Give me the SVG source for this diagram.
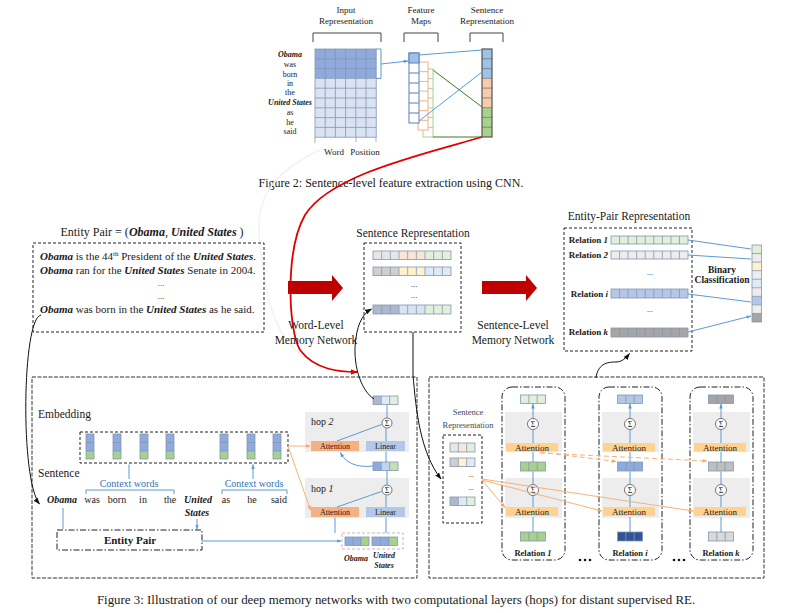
<svg xmlns="http://www.w3.org/2000/svg" width="793" height="613" viewBox="0 0 793 613">
<style>
text{font-family:"Liberation Serif","Times New Roman",serif;fill:#1a1a1a}
.bi{font-weight:bold;font-style:italic}
.b{font-weight:bold}
.i{font-style:italic}
.m{text-anchor:middle}
.c{stroke:#8497b0;stroke-width:0.8}
.g{fill:none;stroke:#8497b0;stroke-width:0.8}
.blue{fill:none;stroke:#5b9bd5;stroke-width:1}
.org{fill:none;stroke:#f5b27a;stroke-width:1}
.blk{fill:none;stroke:#111;stroke-width:1}
.dash{fill:none;stroke:#222;stroke-width:1;stroke-dasharray:3 2}
.dashd{fill:none;stroke:#222;stroke-width:1;stroke-dasharray:6 2 1.5 2}
.band{fill:#ededed}
.att{fill:#ffd28f}
.sig{fill:#fff;stroke:#555;stroke-width:0.8}
</style>
<defs>
<marker id="mb" viewBox="0 0 10 10" refX="9" refY="5" markerWidth="5" markerHeight="5" orient="auto"><path d="M0,1.5 L10,5 L0,8.5z" fill="#5b9bd5"/></marker>
<marker id="mk" viewBox="0 0 10 10" refX="9" refY="5" markerWidth="7" markerHeight="7" orient="auto"><path d="M0,1.5 L10,5 L0,8.5z" fill="#111"/></marker>
<marker id="mo" viewBox="0 0 10 10" refX="9" refY="5" markerWidth="5" markerHeight="5" orient="auto"><path d="M0,1.5 L10,5 L0,8.5z" fill="#f5a35f"/></marker>
<marker id="mr" viewBox="0 0 10 10" refX="9" refY="5" markerWidth="4" markerHeight="4" orient="auto"><path d="M0,1 L10,5 L0,9z" fill="#e00000"/></marker>
</defs>
<rect width="793" height="613" fill="#fff"/>

<!-- ===== Figure 2: CNN ===== -->
<g id="cnn">
<text class="m" x="346" y="13" font-size="9">Input</text>
<text class="m" x="346" y="24" font-size="9">Representation</text>
<text class="m" x="421" y="13" font-size="9">Feature</text>
<text class="m" x="421" y="24" font-size="9">Maps</text>
<text class="m" x="487" y="13" font-size="9">Sentence</text>
<text class="m" x="487" y="24" font-size="9">Representation</text>
<path d="M313 42 V33 H381 V42 M404 42 V33 H438 V42 M470 42 V33 H503 V42" fill="none" stroke="#444" stroke-width="1"/>
<g font-size="8">
<text class="m bi" x="290" y="57">Obama</text>
<text class="m" x="290" y="67">was</text>
<text class="m" x="290" y="77">born</text>
<text class="m" x="290" y="86">in</text>
<text class="m" x="290" y="95">the</text>
<text class="m bi" x="290" y="105">United States</text>
<text class="m" x="290" y="115">as</text>
<text class="m" x="290" y="125">he</text>
<text class="m" x="290" y="134">said</text>
</g>
<rect x="315" y="49" width="61.2" height="29.4" fill="#8faadc"/>
<rect x="315" y="78.4" width="61.2" height="58.8" fill="#dae3f3"/>
<path class="g" d="M325.2 49V137.2M335.4 49V137.2M345.6 49V137.2M355.8 49V137.2M366 49V137.2M315 58.8H376.2M315 68.6H376.2M315 78.4H376.2M315 88.2H376.2M315 98H376.2M315 107.8H376.2M315 117.6H376.2M315 127.4H376.2"/>
<rect class="g" x="315" y="49" width="61.2" height="88.2"/>
<path d="M315 137V143 M356 137V142 M376 137V142" stroke="#999" stroke-width="0.8"/>
<text class="m" x="334" y="155" font-size="9">Word</text>
<text class="m" x="365" y="155" font-size="9">Position</text>
<path d="M376.2 49 H381 V78.4 H376.2" fill="none" stroke="#5b9bd5" stroke-width="1"/>
<path class="blue" d="M381 64 L408 61" marker-end="url(#mb)"/>
<rect x="423" y="69" width="10" height="68" fill="#fff" stroke="#a9d18e" stroke-width="1"/>
<path d="M423 78.7H433M423 88.4H433M423 98.1H433M423 107.9H433M423 117.6H433M423 127.3H433" stroke="#a9d18e" stroke-width="1"/>
<rect x="418" y="62" width="10" height="68" fill="#fff" stroke="#f4b183" stroke-width="1"/>
<path d="M418 71.7H428M418 81.4H428M418 91.1H428M418 100.9H428M418 110.6H428M418 120.3H428" stroke="#f4b183" stroke-width="1"/>
<rect x="409" y="53" width="10" height="70" fill="#fff" stroke="#5b7fbf" stroke-width="1"/>
<rect x="409" y="53" width="10" height="10" fill="#9dc3e6" stroke="#5b7fbf" stroke-width="1"/>
<path d="M409 73H419M409 83H419M409 93H419M409 103H419M409 113H419" stroke="#5b7fbf" stroke-width="1"/>
<rect x="482" y="49" width="10" height="29.3" fill="#9dc3e6"/>
<rect x="482" y="78.3" width="10" height="29.4" fill="#f8cbad"/>
<rect x="482" y="107.7" width="10" height="29.3" fill="#a9d18e"/>
<path d="M482 58.8H492M482 68.6H492M482 78.3H492M482 88.1H492M482 97.9H492M482 107.7H492M482 117.4H492M482 127.2H492" stroke="#777" stroke-width="0.8"/>
<rect x="482" y="49" width="10" height="88" fill="none" stroke="#555" stroke-width="1.2"/>
<path class="blue" d="M419 55 L482 50 M419 121 L482 72"/>
<path d="M433 70 L482 107 M433 137 H482" fill="none" stroke="#3f7a22" stroke-width="1"/>
</g>
<text class="m" x="391" y="187" font-size="12">Figure 2: Sentence-level feature extraction using CNN.</text>

<!-- faint and red curves -->
<path d="M320 150 C255 180 255 215 262 260 C268 310 280 345 310 360" fill="none" stroke="#f2f2f2" stroke-width="1.5"/>
<path d="M482 137 C420 155 330 175 305 215 C285 250 288 330 300 350 C315 370 340 372 357 372" fill="none" stroke="#e00000" stroke-width="1.8" marker-end="url(#mr)"/>

<!-- ===== Entity pair sentences ===== -->
<g id="entity-sentences">
<text class="m" x="152" y="236" font-size="12">Entity  Pair = (<tspan class="bi">Obama</tspan>, <tspan class="bi">United States</tspan> )</text>
<rect class="dash" x="33" y="243" width="231" height="89"/>
<g font-size="11">
<text x="40" y="260"><tspan class="bi">Obama</tspan> is the 44<tspan font-size="7" dy="-4">th</tspan><tspan dy="4"> President of the </tspan><tspan class="bi">United States</tspan>.</text>
<text x="40" y="274"><tspan class="bi">Obama</tspan> ran for the <tspan class="bi">United States</tspan> Senate in 2004.</text>
<text class="m" x="161" y="286" font-size="9">...</text>
<text class="m" x="161" y="299" font-size="9">...</text>
<text x="40" y="313"><tspan class="bi">Obama</tspan> was born in the <tspan class="bi">United States</tspan> as he said.</text>
</g>
</g>

<!-- red block arrows -->
<polygon points="288,281 332,281 332,275 343,288 332,301 332,294 288,294" fill="#c00000"/>
<polygon points="482,281 526,281 526,275 537,288 526,301 526,294 482,294" fill="#c00000"/>
<text class="m" x="316" y="329" font-size="11.5">Word-Level</text>
<text class="m" x="316" y="344" font-size="11.5">Memory Network</text>
<text class="m" x="513" y="329" font-size="11.5">Sentence-Level</text>
<text class="m" x="513" y="344" font-size="11.5">Memory Network</text>

<!-- ===== Sentence Representation (middle) ===== -->
<g id="sentence-representation">
<text class="m" x="413" y="237" font-size="11.5">Sentence  Representation</text>
<rect class="dash" x="364" y="243" width="97" height="89"/>
<rect x="373" y="251" width="26" height="8.5" fill="#e7e6e6"/><rect x="399" y="251" width="26" height="8.5" fill="#fbe5d6"/><rect x="425" y="251" width="26" height="8.5" fill="#e2f0d9"/>
<rect x="373" y="267" width="26" height="8.5" fill="#d0cece"/><rect x="399" y="267" width="26" height="8.5" fill="#fff2cc"/><rect x="425" y="267" width="26" height="8.5" fill="#deebf7"/>
<rect x="373" y="305" width="26" height="9" fill="#adb9ca"/><rect x="399" y="305" width="26" height="9" fill="#dae3f3"/><rect x="425" y="305" width="26" height="9" fill="#e2f0d9"/>
<path class="g" d="M381.67 251v8.5M390.33 251v8.5M399 251v8.5M407.67 251v8.5M416.33 251v8.5M425 251v8.5M433.67 251v8.5M442.33 251v8.5M381.67 267v8.5M390.33 267v8.5M399 267v8.5M407.67 267v8.5M416.33 267v8.5M425 267v8.5M433.67 267v8.5M442.33 267v8.5M381.67 305v9M390.33 305v9M399 305v9M407.67 305v9M416.33 305v9M425 305v9M433.67 305v9M442.33 305v9"/>
<rect class="g" x="373" y="251" width="78" height="8.5"/><rect class="g" x="373" y="267" width="78" height="8.5"/><rect class="g" x="373" y="305" width="78" height="9"/>
<text class="m" x="414" y="287" font-size="9">...</text>
<text class="m" x="414" y="298" font-size="9">...</text>
</g>

<!-- ===== Entity-Pair Representation ===== -->
<g id="entity-pair-representation">
<text class="m" x="629" y="220" font-size="11.5">Entity-Pair  Representation</text>
<rect class="dash" x="564" y="228" width="128" height="123"/>
<g font-size="9" class="b">
<text x="608" y="243" text-anchor="end">Relation <tspan class="i">1</tspan></text>
<text x="608" y="258" text-anchor="end">Relation <tspan class="i">2</tspan></text>
<text x="608" y="297" text-anchor="end">Relation <tspan class="i">i</tspan></text>
<text x="608" y="335" text-anchor="end">Relation <tspan class="i">k</tspan></text>
</g>
<rect x="611" y="236" width="77" height="8" fill="#e2f0d9"/>
<rect x="611" y="251" width="77" height="8" fill="#ededed"/>
<rect x="611" y="289" width="77" height="9" fill="#b4c7e7"/>
<rect x="611" y="328" width="77" height="9" fill="#a5a5a5"/>
<path class="g" d="M619.56 236v8M628.11 236v8M636.67 236v8M645.22 236v8M653.78 236v8M662.33 236v8M670.89 236v8M679.44 236v8M619.56 251v8M628.11 251v8M636.67 251v8M645.22 251v8M653.78 251v8M662.33 251v8M670.89 251v8M679.44 251v8M619.56 289v9M628.11 289v9M636.67 289v9M645.22 289v9M653.78 289v9M662.33 289v9M670.89 289v9M679.44 289v9M619.56 328v9M628.11 328v9M636.67 328v9M645.22 328v9M653.78 328v9M662.33 328v9M670.89 328v9M679.44 328v9"/>
<rect class="g" x="611" y="236" width="77" height="8"/><rect class="g" x="611" y="251" width="77" height="8"/><rect class="g" x="611" y="289" width="77" height="9"/><rect class="g" x="611" y="328" width="77" height="9"/>
<text class="m" x="650" y="275" font-size="8" fill="#666">...</text>
<text class="m" x="650" y="312" font-size="8" fill="#666">...</text>
</g>
<g id="binary-classification">
<text class="m b" x="722" y="273" font-size="9.5">Binary</text>
<text class="m b" x="722" y="283" font-size="9.5">Classification</text>
<rect x="752" y="245" width="9.5" height="8.56" fill="#e2f0d9"/>
<rect x="752" y="253.56" width="9.5" height="8.56" fill="#ededed"/>
<rect x="752" y="262.11" width="9.5" height="8.56" fill="#fff2cc"/>
<rect x="752" y="270.67" width="9.5" height="8.56" fill="#ededed"/>
<rect x="752" y="279.22" width="9.5" height="8.56" fill="#deebf7"/>
<rect x="752" y="287.78" width="9.5" height="8.56" fill="#ededed"/>
<rect x="752" y="296.33" width="9.5" height="8.56" fill="#b4c7e7"/>
<rect x="752" y="304.89" width="9.5" height="8.56" fill="#ededed"/>
<rect x="752" y="313.44" width="9.5" height="8.56" fill="#a5a5a5"/>
<path class="g" d="M752 253.56h9.5M752 262.11h9.5M752 270.67h9.5M752 279.22h9.5M752 287.78h9.5M752 296.33h9.5M752 304.89h9.5M752 313.44h9.5"/>
<rect class="g" x="752" y="245" width="9.5" height="77"/>
</g>

<!-- ===== Bottom-left panel: word-level memory network ===== -->
<g id="word-level-panel">
<rect x="32" y="377" width="385" height="201" fill="none" stroke="#333" stroke-width="1" stroke-dasharray="4 1.5"/>
<text x="38" y="418" font-size="11.5">Embedding</text>
<text x="38" y="477" font-size="11.5">Sentence</text>
<rect class="dash" x="80" y="432" width="208" height="31"/>
<g>
<rect x="86" y="434" width="8" height="17" fill="#8faadc"/><rect x="86" y="451" width="8" height="8" fill="#a9d18e"/><path class="g" d="M86 442.5h8M86 451h8"/><rect class="g" x="86" y="434" width="8" height="25"/>
<rect x="113" y="434" width="8" height="17" fill="#8faadc"/><rect x="113" y="451" width="8" height="8" fill="#a9d18e"/><path class="g" d="M113 442.5h8M113 451h8"/><rect class="g" x="113" y="434" width="8" height="25"/>
<rect x="140" y="434" width="8" height="17" fill="#8faadc"/><rect x="140" y="451" width="8" height="8" fill="#a9d18e"/><path class="g" d="M140 442.5h8M140 451h8"/><rect class="g" x="140" y="434" width="8" height="25"/>
<rect x="166" y="434" width="8" height="17" fill="#8faadc"/><rect x="166" y="451" width="8" height="8" fill="#a9d18e"/><path class="g" d="M166 442.5h8M166 451h8"/><rect class="g" x="166" y="434" width="8" height="25"/>
<rect x="220" y="434" width="8" height="17" fill="#8faadc"/><rect x="220" y="451" width="8" height="8" fill="#a9d18e"/><path class="g" d="M220 442.5h8M220 451h8"/><rect class="g" x="220" y="434" width="8" height="25"/>
<rect x="247" y="434" width="8" height="17" fill="#8faadc"/><rect x="247" y="451" width="8" height="8" fill="#a9d18e"/><path class="g" d="M247 442.5h8M247 451h8"/><rect class="g" x="247" y="434" width="8" height="25"/>
<rect x="273" y="434" width="8" height="17" fill="#8faadc"/><rect x="273" y="451" width="8" height="8" fill="#a9d18e"/><path class="g" d="M273 442.5h8M273 451h8"/><rect class="g" x="273" y="434" width="8" height="25"/>
</g>
<text class="m" x="129" y="487" font-size="10" style="fill:#2e75b6">Context words</text>
<text class="m" x="254" y="487" font-size="10" style="fill:#2e75b6">Context words</text>
<path class="blue" d="M86 494V490H174V494M222 494V490H287V494"/>
<path class="blue" d="M129 479V464.5M253 479V464.5" marker-end="url(#mb)"/>
<g font-size="10">
<text class="m bi" x="62" y="503">Obama</text>
<text class="m" x="92" y="503">was</text>
<text class="m" x="117" y="503">born</text>
<text class="m" x="143" y="503">in</text>
<text class="m" x="170" y="503">the</text>
<text class="m bi" x="198" y="503">United</text>
<text class="m bi" x="197" y="516">States</text>
<text class="m" x="226" y="503">as</text>
<text class="m" x="252" y="503">he</text>
<text class="m" x="279" y="503">said</text>
</g>
<path class="blue" d="M63 508V529M197 519V529" marker-end="url(#mb)"/>
<rect class="dashd" x="57" y="530" width="145" height="20"/>
<text class="m b" x="130" y="544" font-size="11">Entity Pair</text>
<path class="blue" d="M202 541H341" marker-end="url(#mb)"/>
<!-- hops -->
<rect class="band" x="305" y="412" width="104" height="40"/>
<rect class="band" x="305" y="478" width="104" height="40"/>
<text x="311" y="425" font-size="10">hop <tspan class="i">2</tspan></text>
<text x="311" y="492" font-size="10">hop <tspan class="i">1</tspan></text>
<rect x="311" y="441" width="48" height="10" fill="#f4b183"/>
<rect x="366" y="441" width="39" height="10" fill="#b4c7e7"/>
<rect x="311" y="507" width="48" height="10" fill="#f4b183"/>
<rect x="366" y="507" width="39" height="10" fill="#b4c7e7"/>
<text class="m" x="335" y="449" font-size="8">Attention</text>
<text class="m" x="385.5" y="449" font-size="8">Linear</text>
<text class="m" x="335" y="515" font-size="8">Attention</text>
<text class="m" x="385.5" y="515" font-size="8">Linear</text>
<circle class="sig" cx="387" cy="423" r="5"/><text class="m" x="387" y="426" font-size="8">Σ</text>
<circle class="sig" cx="387" cy="490" r="5"/><text class="m" x="387" y="493" font-size="8">Σ</text>
<rect x="373" y="396" width="8.33" height="8.5" fill="#adb9ca"/><rect x="381.33" y="396" width="8.33" height="8.5" fill="#deebf7"/><rect x="389.67" y="396" width="8.33" height="8.5" fill="#e2f0d9"/>
<rect class="g" x="373" y="396" width="25" height="8.5"/><path class="g" d="M381.33 396v8.5M389.67 396v8.5"/>
<rect x="373" y="462" width="8.33" height="8.5" fill="#8faadc"/><rect x="381.33" y="462" width="8.33" height="8.5" fill="#bdd7ee"/><rect x="389.67" y="462" width="8.33" height="8.5" fill="#c5e0b4"/>
<rect class="g" x="373" y="462" width="25" height="8.5"/><path class="g" d="M381.33 462v8.5M389.67 462v8.5"/>
<path class="blue" d="M386 441V428.5M387 418V405M386 462V451.5M387 485V471M386 507V495.5M386 533V517.5M335 533V517.5M337 441L381.5 424.5M337 507L381.5 491.5M373 466C355 468 345 462 340.5 452.5" marker-end="url(#mb)"/>
<rect x="342" y="533" width="61" height="16" fill="none" stroke="#aaa" stroke-width="0.8" stroke-dasharray="3 2"/>
<rect x="345" y="537" width="16" height="8.5" fill="#8faadc"/><rect x="361" y="537" width="8" height="8.5" fill="#a9d18e"/>
<rect class="g" x="345" y="537" width="24" height="8.5"/><path class="g" d="M353 537v8.5M361 537v8.5"/>
<rect x="372" y="537" width="17" height="8.5" fill="#8faadc"/><rect x="389" y="537" width="8.5" height="8.5" fill="#a9d18e"/>
<rect class="g" x="372" y="537" width="25.5" height="8.5"/><path class="g" d="M380.5 537v8.5M389 537v8.5"/>
<text class="m bi" x="356" y="561" font-size="8">Obama</text>
<text class="m bi" x="384" y="558" font-size="8">United</text>
<text class="m bi" x="384" y="568" font-size="8">States</text>
<path class="org" d="M288 446H310" marker-end="url(#mo)"/>
<path class="org" d="M288 446L310.5 510" marker-end="url(#mo)"/>
</g>

<!-- ===== Bottom-right panel: sentence-level memory network ===== -->
<g id="sentence-level-panel">
<rect x="429" y="377" width="335" height="201" fill="none" stroke="#333" stroke-width="1" stroke-dasharray="4 1.5"/>
<text class="m" x="468" y="415" font-size="8.5" style="fill:#3b4a5e">Sentence</text>
<text class="m" x="468" y="428" font-size="8.5" style="fill:#3b4a5e">Representation</text>
<rect class="dash" x="443" y="435" width="39" height="88"/>
<rect x="450" y="443" width="8.33" height="9" fill="#e7e6e6"/><rect x="458.33" y="443" width="8.33" height="9" fill="#fbe5d6"/><rect x="466.67" y="443" width="8.33" height="9" fill="#e2f0d9"/>
<rect class="g" x="450" y="443" width="25" height="9"/><path class="g" d="M458.33 443v9M466.67 443v9"/>
<rect x="450" y="458" width="8.33" height="8.5" fill="#d0cece"/><rect x="458.33" y="458" width="8.33" height="8.5" fill="#fff2cc"/><rect x="466.67" y="458" width="8.33" height="8.5" fill="#deebf7"/>
<rect class="g" x="450" y="458" width="25" height="8.5"/><path class="g" d="M458.33 458v8.5M466.67 458v8.5"/>
<text class="m" x="471" y="477" font-size="7" fill="#666">...</text>
<text class="m" x="471" y="490" font-size="7" fill="#666">...</text>
<rect x="450" y="497" width="8.33" height="8.5" fill="#adb9ca"/><rect x="458.33" y="497" width="8.33" height="8.5" fill="#deebf7"/><rect x="466.67" y="497" width="8.33" height="8.5" fill="#e2f0d9"/>
<rect class="g" x="450" y="497" width="25" height="8.5"/><path class="g" d="M458.33 497v8.5M466.67 497v8.5"/>
</g>

<g id="relation-1">
<rect class="dashd" x="502" y="387" width="63" height="173" rx="10"/>
<rect class="band" x="505" y="412" width="57" height="40"/><rect class="band" x="505" y="478" width="57" height="40"/>
<rect x="520.5" y="395" width="25" height="8.5" fill="#e2f0d9"/><rect class="g" x="520.5" y="395" width="25" height="8.5"/><path class="g" d="M528.83 395v8.5M537.17 395v8.5"/>
<rect x="520.5" y="462" width="25" height="9" fill="#a9d18e"/><rect class="g" x="520.5" y="462" width="25" height="9"/><path class="g" d="M528.83 462v9M537.17 462v9"/>
<rect x="520.5" y="532" width="25" height="9" fill="#a9d18e"/><rect class="g" x="520.5" y="532" width="25" height="9"/><path class="g" d="M528.83 532v9M537.17 532v9"/>
<rect class="att" x="506" y="443" width="52" height="8.5"/><text class="m" x="532" y="450.5" font-size="9">Attention</text>
<rect class="att" x="506" y="507" width="52" height="9"/><text class="m" x="532" y="514.5" font-size="9">Attention</text>
<circle class="sig" cx="533" cy="424" r="5.5"/><text class="m" x="533" y="427" font-size="8">Σ</text>
<circle class="sig" cx="533" cy="490" r="5.5"/><text class="m" x="533" y="493" font-size="8">Σ</text>
<path class="blue" d="M533 532V517M533 507V496M533 484.5V471.5M533 462V452M533 443V430M533 418.5V404" marker-end="url(#mb)"/>
<text class="m b" x="533" y="556" font-size="8.5">Relation <tspan class="i">1</tspan></text>
</g>

<g id="relation-i">
<rect class="dashd" x="599" y="387" width="63" height="173" rx="10"/>
<rect class="band" x="602" y="412" width="57" height="40"/><rect class="band" x="602" y="478" width="57" height="40"/>
<rect x="617.5" y="395" width="25" height="8.5" fill="#b4c7e7"/><rect class="g" x="617.5" y="395" width="25" height="8.5"/><path class="g" d="M625.83 395v8.5M634.17 395v8.5"/>
<rect x="617.5" y="462" width="25" height="9" fill="#8faadc"/><rect class="g" x="617.5" y="462" width="25" height="9"/><path class="g" d="M625.83 462v9M634.17 462v9"/>
<rect x="617.5" y="532" width="25" height="9" fill="#2f5597"/><rect class="g" x="617.5" y="532" width="25" height="9"/><path class="g" d="M625.83 532v9M634.17 532v9"/>
<rect class="att" x="603" y="443" width="52" height="8.5"/><text class="m" x="629" y="450.5" font-size="9">Attention</text>
<rect class="att" x="603" y="507" width="52" height="9"/><text class="m" x="629" y="514.5" font-size="9">Attention</text>
<circle class="sig" cx="630" cy="424" r="5.5"/><text class="m" x="630" y="427" font-size="8">Σ</text>
<circle class="sig" cx="630" cy="490" r="5.5"/><text class="m" x="630" y="493" font-size="8">Σ</text>
<path class="blue" d="M630 532V517M630 507V496M630 484.5V471.5M630 462V452M630 443V430M630 418.5V404" marker-end="url(#mb)"/>
<text class="m b" x="630" y="556" font-size="8.5">Relation <tspan class="i">i</tspan></text>
</g>

<g id="relation-k">
<rect class="dashd" x="690" y="387" width="63" height="173" rx="10"/>
<rect class="band" x="693" y="412" width="57" height="40"/><rect class="band" x="693" y="478" width="57" height="40"/>
<rect x="708.5" y="395" width="25" height="8.5" fill="#a5a5a5"/><rect class="g" x="708.5" y="395" width="25" height="8.5"/><path class="g" d="M716.83 395v8.5M725.17 395v8.5"/>
<rect x="708.5" y="462" width="25" height="9" fill="#bfbfbf"/><rect class="g" x="708.5" y="462" width="25" height="9"/><path class="g" d="M716.83 462v9M725.17 462v9"/>
<rect x="708.5" y="532" width="25" height="9" fill="#d9d9d9"/><rect class="g" x="708.5" y="532" width="25" height="9"/><path class="g" d="M716.83 532v9M725.17 532v9"/>
<rect class="att" x="694" y="443" width="52" height="8.5"/><text class="m" x="720" y="450.5" font-size="9">Attention</text>
<rect class="att" x="694" y="507" width="52" height="9"/><text class="m" x="720" y="514.5" font-size="9">Attention</text>
<circle class="sig" cx="721" cy="424" r="5.5"/><text class="m" x="721" y="427" font-size="8">Σ</text>
<circle class="sig" cx="721" cy="490" r="5.5"/><text class="m" x="721" y="493" font-size="8">Σ</text>
<path class="blue" d="M721 532V517M721 507V496M721 484.5V471.5M721 462V452M721 443V430M721 418.5V404" marker-end="url(#mb)"/>
<text class="m b" x="721" y="556" font-size="8.5">Relation <tspan class="i">k</tspan></text>
</g>

<g id="ellipses" fill="#111">
<circle cx="580" cy="560" r="1.3"/><circle cx="585" cy="560" r="1.3"/><circle cx="590" cy="560" r="1.3"/>
<circle cx="674" cy="560" r="1.3"/><circle cx="679" cy="560" r="1.3"/><circle cx="684" cy="560" r="1.3"/>
</g>

<!-- ===== connectors ===== -->
<g id="connectors">
<path class="org" d="M482 480L505 507.5" marker-end="url(#mo)"/>
<path class="org" d="M482 480L602 511" marker-end="url(#mo)"/>
<path class="org" d="M482 479L693 511" marker-end="url(#mo)"/>
<path class="org" d="M540 452L616 461.5" stroke-dasharray="5 3" marker-end="url(#mo)"/>
<path class="org" d="M540 453L707 461" stroke-dasharray="5 3" marker-end="url(#mo)"/>
<path class="blue" d="M688 240L751 249M688 255L751 259M688 294L751 302M688 332L751 316" marker-end="url(#mb)"/>
<path class="blk" d="M413 332V375C416 410 420 452 441 479" marker-end="url(#mk)"/>
<path class="blk" d="M374 399C360 390 352 362 356 338C358 322 364 313 371.5 309" marker-end="url(#mk)"/>
<path class="blk" d="M596 378C598 362 610 362 616 362C622 362 626 358 629.5 353.5" marker-end="url(#mk)"/>
<path class="blk" d="M41 315C22 318 20 480 39.5 504" marker-end="url(#mk)"/>
</g>

<text class="m" x="396" y="604" font-size="12.9">Figure 3: Illustration of our deep memory networks with two computational layers (hops) for distant supervised RE.</text>
</svg>
